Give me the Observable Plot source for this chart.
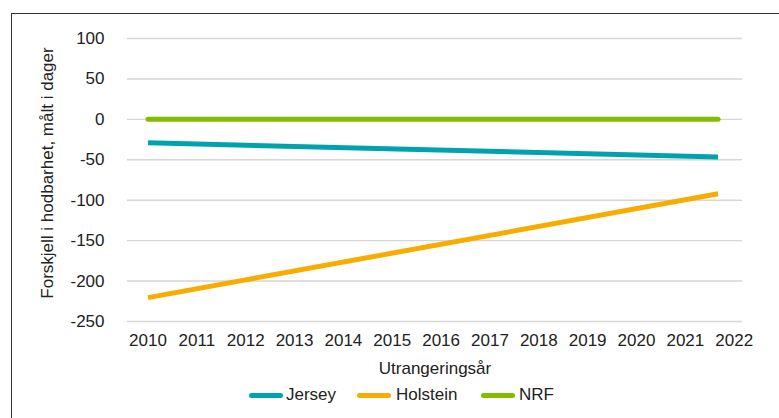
<!DOCTYPE html>
<html>
<head>
<meta charset="utf-8">
<script src="https://cdn.jsdelivr.net/npm/d3@7"></script>
<script src="https://cdn.jsdelivr.net/npm/@observablehq/plot@0.6"></script>
<style>
  html, body { margin: 0; padding: 0; background: #fff; width: 779px; height: 418px; overflow: hidden; }
  body { position: relative; font-family: "Liberation Sans", Arial, Helvetica, sans-serif; }
  #frame { position: absolute; left: 11px; top: 13px; width: 900px; height: 600px; border-left: 1px solid #333; border-top: 1px solid #333; box-sizing: border-box; }
  #chart { position: absolute; left: 0; top: 0; }
  #legend { position: absolute; left: 0; top: 384px; width: 779px; height: 22px; }
  .item { position: absolute; top: 0; height: 22px; font-size: 17px; color: #222; line-height: 22px; }
  .sw { position: absolute; top: 9px; left: 0; width: 34px; height: 5px; border-radius: 3px; }
  .lab { position: absolute; top: 0; white-space: nowrap; }
</style>
</head>
<body>
<div id="frame"></div>
<div id="chart"></div>
<div id="legend"></div>
<script>
// Data
const years = [2010, 2021.67];
const jersey = [-29, -46.5];
const holstein = [-220.5, -92];
const nrf = [0, 0];
const seriesNames = ["Jersey", "Holstein", "NRF"];
const seriesColors = ["#00A3AD", "#F8AC00", "#84BD00"];
const yTicks = [100, 50, 0, -50, -100, -150, -200, -250];
const xTicks = [2010, 2011, 2012, 2013, 2014, 2015, 2016, 2017, 2018, 2019, 2020, 2021, 2022];
const yTitle = "Forskjell i hodbarhet, målt i dager";
const xTitle = "Utrangeringsår";

const toRows = (name, vals) => years.map((x, i) => ({series: name, year: x, value: vals[i]}));
const rowsJ = toRows("Jersey", jersey);
const rowsH = toRows("Holstein", holstein);
const rowsN = toRows("NRF", nrf);

const plot = Plot.plot({
  width: 779,
  height: 380,
  marginLeft: 127,
  marginRight: 37,
  marginTop: 38,
  marginBottom: 59,
  style: {fontFamily: '"Liberation Sans", Arial, Helvetica, sans-serif', fontSize: "17px", color: "#222", background: "transparent"},
  x: {domain: [2009.58, 2022.17]},
  y: {domain: [-250, 100]},
  color: {domain: seriesNames, range: seriesColors},
  marks: [
    Plot.gridY(yTicks, {stroke: "#d6d6d6", strokeOpacity: 1, strokeWidth: 1.4}),
    Plot.axisY(yTicks, {tickSize: 0, tickPadding: 23, fontSize: 17, tickFormat: d => String(d), label: null, fill: "#222"}),
    Plot.text([yTitle], {frameAnchor: "left", rotate: -90, textAnchor: "middle", dx: -80, dy: -7, fontSize: 17, fill: "#222", text: d => d}),
    Plot.axisX(xTicks, {tickSize: 0, tickPadding: 12, fontSize: 17, tickFormat: d => String(d), label: xTitle, labelAnchor: "center", labelOffset: 52, labelArrow: "none", fill: "#222"}),
    Plot.lineY(rowsH, {x: "year", y: "value", stroke: "series", strokeWidth: 5, strokeLinecap: "butt"}),
    Plot.lineY(rowsJ, {x: "year", y: "value", stroke: "series", strokeWidth: 5, strokeLinecap: "butt"}),
    Plot.lineY(rowsN, {x: "year", y: "value", stroke: "series", strokeWidth: 5, strokeLinecap: "round"})
  ]
});
document.getElementById("chart").appendChild(plot);

// Legend
const legendPos = [
  {sw: 249, lab: 286},
  {sw: 357, lab: 396},
  {sw: 481, lab: 519}
];
const legend = document.getElementById("legend");
seriesNames.forEach((name, i) => {
  const sw = document.createElement("div");
  sw.className = "sw";
  sw.style.left = legendPos[i].sw + "px";
  sw.style.background = seriesColors[i];
  legend.appendChild(sw);
  const lab = document.createElement("div");
  lab.className = "item lab";
  lab.style.left = legendPos[i].lab + "px";
  lab.textContent = name;
  legend.appendChild(lab);
});
</script>
</body>
</html>
